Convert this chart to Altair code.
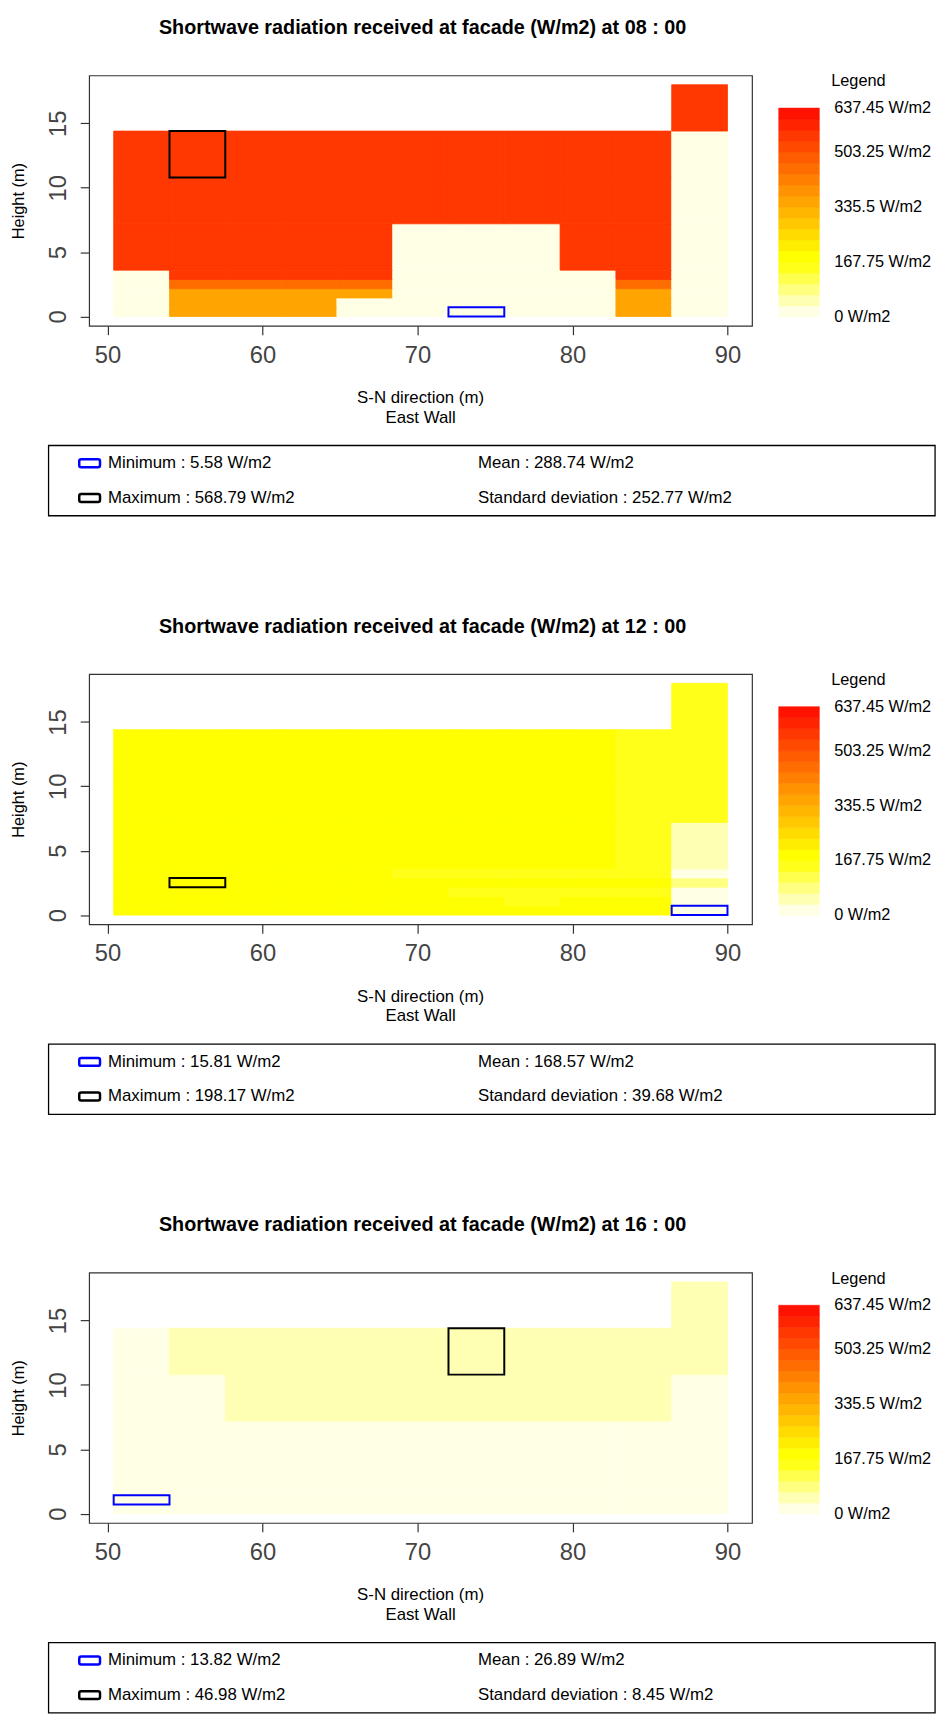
import altair as alt
import pandas as pd

# ------------------------------------------------------------------ data
# cell edges of the facade mesh (m)
X_EDGES = [50.4, 54.0, 57.6, 61.2, 64.8, 68.4, 72.0, 75.6, 79.2, 82.8, 86.4, 90.0]
Y_EDGES = [0.0, 0.72, 1.44, 2.16, 2.88, 3.6, 7.2, 10.8, 14.4, 18.0]

X_TICKS = [50, 60, 70, 80, 90]
Y_TICKS = [0, 5, 10, 15]

HOURS = ["08 : 00", "12 : 00", "16 : 00"]

# shortwave radiation per cell (W/m2), rows bottom -> top, columns S -> N
V08 = [
    [14.6, 348.2, 352.7, 350.1, 8.9, 6.4, 5.58, 6.8, 11.2, 346.9, 16.3],
    [15.1, 351.4, 356.0, 353.2, 9.7, 7.1, 6.3, 7.4, 12.0, 349.5, 17.0],
    [15.8, 358.3, 361.6, 359.0, 342.7, 7.9, 7.0, 8.1, 12.9, 355.2, 17.8],
    [16.4, 452.6, 455.1, 453.0, 447.9, 8.6, 7.7, 8.8, 13.7, 450.3, 18.5],
    [17.2, 548.7, 551.3, 549.9, 545.1, 9.4, 8.5, 9.6, 14.6, 546.0, 19.3],
    [556.2, 562.4, 563.8, 562.1, 560.5, 12.3, 11.2, 12.5, 555.8, 558.9, 22.6],
    [559.7, 566.1, 566.9, 565.4, 564.0, 561.3, 560.8, 561.6, 559.2, 561.7, 25.4],
    [561.9, 568.79, 568.2, 567.5, 566.8, 565.3, 564.9, 565.2, 563.7, 564.4, 28.1],
    [None, None, None, None, None, None, None, None, None, None, 558.4],
]
V12 = [
    [185.2, 186.9, 187.6, 187.9, 187.4, 186.5, 185.1, 183.6, 181.0, 176.3, 15.81],
    [184.8, 186.5, 187.2, 187.6, 187.1, 186.2, 184.7, 165.8, 180.2, 175.1, 19.2],
    [184.1, 185.9, 186.6, 187.0, 186.5, 185.6, 163.4, 164.1, 162.8, 161.5, 21.0],
    [183.5, 198.17, 186.0, 186.4, 185.9, 185.0, 183.9, 182.7, 180.4, 176.0, 72.3],
    [182.9, 184.7, 185.4, 185.8, 185.3, 160.2, 161.0, 161.3, 160.5, 158.7, 24.6],
    [181.6, 183.4, 184.1, 184.5, 184.0, 183.1, 182.0, 180.8, 178.5, 159.2, 52.8],
    [180.2, 182.0, 182.7, 183.1, 182.6, 181.7, 180.6, 179.4, 177.1, 157.6, 155.3],
    [178.9, 180.7, 181.4, 181.8, 181.3, 180.4, 179.3, 178.1, 175.8, 156.0, 154.1],
    [None, None, None, None, None, None, None, None, None, None, 152.7],
]
V16 = [
    [14.5, 20.3, 21.1, 21.8, 22.4, 22.9, 23.3, 23.5, 23.2, 22.6, 18.9],
    [13.82, 20.9, 21.6, 22.2, 22.8, 23.3, 23.7, 23.9, 23.6, 23.0, 19.6],
    [14.9, 21.4, 22.1, 22.7, 23.3, 23.8, 24.1, 24.3, 24.0, 23.5, 20.2],
    [15.3, 21.9, 22.6, 23.2, 23.7, 24.2, 24.6, 24.8, 24.5, 23.9, 20.8],
    [15.7, 22.4, 23.1, 23.6, 24.2, 24.7, 25.0, 25.2, 24.9, 24.4, 21.3],
    [17.2, 25.8, 27.3, 28.1, 28.6, 29.0, 29.3, 29.4, 29.1, 28.5, 24.7],
    [20.4, 31.6, 38.2, 39.5, 40.3, 40.9, 41.3, 41.5, 41.0, 39.8, 30.2],
    [24.1, 36.7, 42.5, 44.1, 45.2, 46.1, 46.98, 46.7, 46.0, 45.1, 43.6],
    [None, None, None, None, None, None, None, None, None, None, 44.8],
]
VALUES = [V08, V12, V16]

STAT_MIN = ["5.58", "15.81", "13.82"]
STAT_MAX = ["568.79", "198.17", "46.98"]
STAT_MEAN = ["288.74", "168.57", "26.89"]
STAT_SD = ["252.77", "39.68", "8.45"]

# colour classes (rev(heat.colors(20)) with class width 33.55 W/m2)
BIN = 33.55
PALETTE = ["#FFFFE6", "#FFFFB3", "#FFFF80", "#FFFF4D", "#FFFF1A", "#FFFF00",
           "#FFED00", "#FFDB00", "#FFC800", "#FFB600", "#FFA400", "#FF9200",
           "#FF8000", "#FF6D00", "#FF5B00", "#FF4900", "#FF3700", "#FF2400",
           "#FF1200", "#FF0000"]
LEGEND_VALUES = [637.45, 503.25, 335.5, 167.75, 0]
LEGEND_LABELS = ["637.45 W/m2", "503.25 W/m2", "335.5 W/m2", "167.75 W/m2", "0 W/m2"]
LEGEND_TOP = 637.45
N_BANDS = 19

# ------------------------------------------------------------------ layout
W, H = 670, 253
XDOM = [48.816, 91.584]
YDOM = [-0.72, 18.72]
FONT = "Liberation Sans"

cscale = alt.Scale(type="threshold",
                   domain=[round(BIN * k, 2) for k in range(1, 20)],
                   range=PALETTE)


def txt(s, x, y, **kw):
    base = dict(font=FONT, fontSize=17, color="#000000", align="left", baseline="middle")
    base.update(kw)
    return alt.Chart(pd.DataFrame({"t": [s]})).mark_text(**base).encode(
        x=alt.value(x), y=alt.value(y), text="t:N")


def box(x1, x2, y1, y2, color, sw, radius=0, opacity=1):
    return alt.Chart(pd.DataFrame({"a": [0]})).mark_rect(
        fill="#FFFFFF", fillOpacity=0 if radius == 0 else 1, stroke=color,
        strokeOpacity=opacity, strokeWidth=sw, cornerRadius=radius).encode(
        x=alt.value(x1), x2=alt.value(x2), y=alt.value(y1), y2=alt.value(y2))


def panel(i):
    vals = VALUES[i]
    rows = []
    for r, row in enumerate(vals):
        for c, v in enumerate(row):
            if v is None:
                continue
            rows.append(dict(x0=X_EDGES[c], x1=X_EDGES[c + 1],
                             y0=Y_EDGES[r], y1=Y_EDGES[r + 1], v=v))
    df = pd.DataFrame(rows)
    ext = pd.concat([df.loc[[df.v.idxmin()]].assign(kind="min"),
                     df.loc[[df.v.idxmax()]].assign(kind="max")])

    xs = alt.Scale(domain=XDOM, nice=False, zero=False)
    ys = alt.Scale(domain=YDOM, nice=False, zero=False)

    heat = alt.Chart(df).mark_rect(strokeWidth=0.8).encode(
        x=alt.X("x0:Q", scale=xs, axis=alt.Axis(
            values=X_TICKS, title=None, grid=False, domain=False,
            tickSize=9, tickWidth=1.2, tickColor="#333333",
            labelFontSize=24, labelColor="#444444", labelFont=FONT,
            labelPadding=9, labelFlush=False, labelOverlap=False,
            labelBaseline="top")),
        x2="x1",
        y=alt.Y("y0:Q", scale=ys, axis=alt.Axis(
            values=Y_TICKS, title=None, grid=False, domain=False,
            tickSize=9, tickWidth=1.2, tickColor="#333333",
            labelFontSize=24, labelColor="#444444", labelFont=FONT,
            labelAngle=270, labelAlign="center", labelBaseline="alphabetic",
            labelPadding=15, labelFlush=False, labelOverlap=False)),
        y2="y1",
        color=alt.Color("v:Q", scale=cscale, legend=None),
        stroke=alt.Stroke("v:Q", scale=cscale, legend=None),
    )

    marks = alt.Chart(ext).mark_rect(fillOpacity=0, strokeWidth=2).encode(
        x=alt.X("x0:Q", scale=xs, axis=None), x2="x1",
        y=alt.Y("y0:Q", scale=ys, axis=None), y2="y1",
        stroke=alt.Stroke("kind:N", scale=alt.Scale(domain=["min", "max"],
                          range=["#0000FF", "#000000"]), legend=None),
    )

    lscale = alt.Scale(domain=[0, LEGEND_TOP], range=[244, 33], nice=False, zero=False)
    bands = pd.DataFrame({"lo": [BIN * k for k in range(N_BANDS)],
                          "hi": [BIN * (k + 1) for k in range(N_BANDS)]})
    bands["mid"] = (bands.lo + bands.hi) / 2
    bar = alt.Chart(bands).mark_rect(strokeWidth=0.6).encode(
        x=alt.value(697), x2=alt.value(738),
        y=alt.Y("lo:Q", scale=lscale, axis=None), y2="hi",
        color=alt.Color("mid:Q", scale=cscale, legend=None),
        stroke=alt.Stroke("mid:Q", scale=cscale, legend=None),
    )
    leg_lab = alt.Chart(pd.DataFrame({"val": LEGEND_VALUES, "lab": LEGEND_LABELS})).mark_text(
        font=FONT, fontSize=16.5, align="left", baseline="middle", color="#000000").encode(
        x=alt.value(753), y=alt.Y("val:Q", scale=lscale, axis=None), text="lab:N")

    layers = [
        heat, marks, bar, leg_lab,
        txt("Shortwave radiation received at facade (W/m2) at " + HOURS[i], 337, -48,
            fontSize=20, fontWeight="bold", align="center"),
        txt("Height (m)", -71, 127, angle=270, align="center", fontSize=16.5),
        txt("S-N direction (m)", 335, 326, align="center"),
        txt("East Wall", 335, 346, align="center"),
        txt("Legend", 750, 6, fontSize=16.5),
        box(-41, 855, 374, 445, "#000000", 1.3),
        box(-10, 11, 388, 396, "#0000FF", 2.5, radius=2),
        box(-10, 11, 423, 431, "#000000", 2.5, radius=2),
        txt("Minimum : " + STAT_MIN[i] + " W/m2", 19, 392),
        txt("Maximum : " + STAT_MAX[i] + " W/m2", 19, 427),
        txt("Mean : " + STAT_MEAN[i] + " W/m2", 393, 392),
        txt("Standard deviation : " + STAT_SD[i] + " W/m2", 393, 427),
    ]
    if i == 0:
        # invisible page frame: fixes the page origin (8px margin) for autosize
        layers.append(box(-81, 861, -58, -50, "#FFFFFF", 0.01, opacity=0))
    return alt.layer(*layers).resolve_scale(y="independent", x="independent").properties(
        width=W, height=H)


chart = alt.vconcat(panel(0), panel(1), panel(2), spacing=352, bounds="flush").properties(
    padding=0,
    background="#FFFFFF",
).configure_view(stroke="#333333", strokeWidth=1.2)

chart.save("out.html", embed_options={"renderer": "svg", "actions": False})
